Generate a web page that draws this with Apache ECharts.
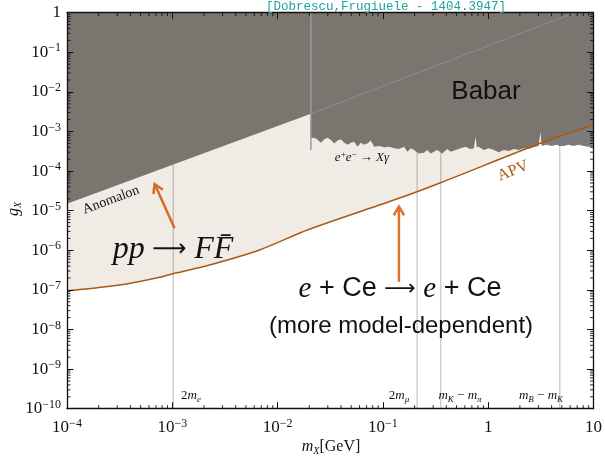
<!DOCTYPE html>
<html><head><meta charset="utf-8">
<script src="https://cdn.jsdelivr.net/npm/echarts@6/dist/echarts.min.js"></script>
<style>html,body{margin:0;padding:0;background:#fff}#c{width:605px;height:457px}</style>
</head><body><div id="c"></div>
<script>
// ---- data ----
const xTickExps = [-4, -3, -2, -1, 0, 1];           // m_X in GeV: 1e-4 ... 10
const yTickExps = [-10, -9, -8, -7, -6, -5, -4, -3, -2, -1, 0]; // g_X: 1e-10 ... 1

const apvMass = [1e-4, 1.77e-4, 3.67e-4, 7.6e-4, 1.05e-3, 2.26e-3, 6.73e-3, 0.02, 0.142, 0.353, 3.13, 10];
const apvG    = [9.5e-8, 1.10e-7, 1.41e-7, 2.08e-7, 2.62e-7, 4.26e-7, 1.02e-6, 3.39e-6, 2.06e-5, 5.09e-5, 5.04e-4, 1.46e-3];

const anomalonMass = [1e-4, 0.0207, 6.6];
const anomalonG    = [1.5e-5, 2.8e-3, 1.0];

const babarMass = [0.0207,0.0232,0.0240,0.0258,0.0277,0.0298,0.0321,0.0345,0.0371,0.0399,0.0430,0.0461,0.0497,0.0533,0.0574,0.0618,0.0664,0.0713,0.0767,0.0826,0.0920,0.103,0.115,0.128,0.142,0.148,0.159,0.171,0.184,0.197,0.220,0.245,0.264,0.284,0.305,0.328,0.366,0.408,0.440,0.490,0.547,0.610,0.679,0.731,0.759,0.780,0.815,0.908,1.01,1.13,1.26,1.41,1.57,1.75,1.95,2.17,2.42,2.70,3.01,3.13,3.22,3.59,4.00,4.46,4.76,5.20,5.79,6.47,7.21,8.04,8.97,10];
const babarG = [7.1e-4,6.7e-4,6.1e-4,5.2e-4,6.4e-4,7.0e-4,6.1e-4,5.0e-4,5.9e-4,6.4e-4,5.2e-4,4.6e-4,5.2e-4,5.5e-4,4.1e-4,5.2e-4,4.6e-4,5.0e-4,5.9e-4,4.1e-4,4.3e-4,4.0e-4,4.1e-4,3.8e-4,3.6e-4,3.4e-4,4.1e-4,3.1e-4,3.8e-4,3.4e-4,2.8e-4,2.9e-4,3.4e-4,2.8e-4,3.1e-4,3.4e-4,2.8e-4,3.6e-4,3.1e-4,3.4e-4,3.8e-4,4.1e-4,3.6e-4,3.8e-4,7.4e-4,4.0e-4,4.1e-4,3.4e-4,3.8e-4,3.4e-4,3.0e-4,3.4e-4,3.2e-4,3.6e-4,3.4e-4,3.8e-4,3.6e-4,4.0e-4,4.3e-4,9.7e-4,4.3e-4,4.6e-4,4.3e-4,4.6e-4,4.3e-4,4.3e-4,4.6e-4,4.3e-4,4.6e-4,4.3e-4,4.1e-4,4.1e-4];

const babarEdgeMass = [0.0207, 0.0207];
const babarEdgeG    = [1.0, 3.4e-4];

const thresholdMass = [1.022e-3, 0.2113, 0.3543, 4.785];  // 2m_e, 2m_mu, mK-mpi, mB-mK

// arrows: [mass, g] of tail and tip
const arrowFrom = [[1.05e-3, 3.6e-6], [0.142, 1.6e-7], [0.326, 9.2e-3]];
const arrowTo   = [[6.8e-4, 4.7e-5], [0.142, 1.26e-5], [0.0635, 1.05e-3]];

// ---- rendering ----
const SERIF = '"Liberation Serif","Times New Roman",serif';
const SANS = '"Liberation Sans",Arial,sans-serif';
const ORANGE = '#e0702a';
const BROWN = '#a85a14';
const lg = Math.log10;
const pts = (xs, ys) => xs.map((x, i) => [lg(x), lg(ys[i])]);

const minorTicks = [];
for (let n = -4; n < 1; n++) for (let k = 2; k <= 9; k++) minorTicks.push([n + lg(k), 0]);
for (let n = -10; n < 0; n++) for (let k = 2; k <= 9; k++) minorTicks.push([n + lg(k), 1]);

const supRich = {
  b: { fontFamily: SERIF, fontSize: 17, lineHeight: 20, color: '#111' },
  s: { fontFamily: SERIF, fontSize: 12, lineHeight: 12, verticalAlign: 'top', color: '#111' }
};
const expLabel = v => v === 0 ? '{b|1}' : v === 1 ? '{b|10}' : '{b|10}{s|\u2212' + (-v) + '}';

const axisCommon = {
  type: 'value', z: 10,
  axisLine: { show: true, onZero: false, lineStyle: { color: '#111', width: 1.3 } },
  axisTick: { show: true, inside: true, length: 6.5, lineStyle: { color: '#111', width: 1 } },
  splitLine: { show: false }
};

const chart = echarts.init(document.getElementById('c'));
chart.setOption({
  animation: false,
  backgroundColor: '#fff',
  grid: { left: 67, right: 10, top: 12.7, bottom: 48.3 },
  xAxis: [
    Object.assign({}, axisCommon, { position: 'bottom', min: xTickExps[0], max: xTickExps[xTickExps.length-1], interval: 1,
      axisLabel: { formatter: expLabel, rich: supRich, margin: 9 } }),
    Object.assign({}, axisCommon, { position: 'top', min: xTickExps[0], max: xTickExps[xTickExps.length-1], interval: 1,
      axisLabel: { show: false } })
  ],
  yAxis: [
    Object.assign({}, axisCommon, { position: 'left', min: yTickExps[0], max: yTickExps[yTickExps.length-1], interval: 1,
      axisLabel: { formatter: expLabel, rich: supRich, margin: 6 } }),
    Object.assign({}, axisCommon, { position: 'right', min: yTickExps[0], max: yTickExps[yTickExps.length-1], interval: 1,
      axisLabel: { show: false } })
  ],
  series: [
    { // threshold vertical lines
      type: 'custom', silent: true,
      data: thresholdMass.map(m => [lg(m), -10]),
      renderItem: (p, api) => {
        const a = api.coord([api.value(0), -10]), b = api.coord([api.value(0), 0]);
        return { type: 'line', shape: { x1: a[0], y1: a[1], x2: b[0], y2: b[1] }, style: { stroke: '#c9c9c9', lineWidth: 1.3 } };
      }
    },
    { // anomalon excluded region
      type: 'line', silent: true, showSymbol: false, data: pts(anomalonMass, anomalonG),
      lineStyle: { width: 0, opacity: 0 },
      areaStyle: { color: '#7c7c7c', opacity: 1, origin: 'end' }
    },
    { // babar excluded region
      type: 'line', silent: true, showSymbol: false, data: pts(babarMass, babarG),
      lineStyle: { width: 0, opacity: 0 },
      areaStyle: { color: '#7c7c7c', opacity: 1, origin: 'end' }
    },
    { // APV curve + region above it
      type: 'line', silent: true, showSymbol: false, smooth: 0.3, data: pts(apvMass, apvG),
      lineStyle: { color: BROWN, width: 1.5 },
      areaStyle: { color: 'rgba(115,55,5,0.1)', opacity: 1, origin: 'end' }
    },
    { // faint continuation of anomalon bound
      type: 'line', silent: true, showSymbol: false, data: pts(anomalonMass.slice(1), anomalonG.slice(1)),
      lineStyle: { color: 'rgba(160,160,160,0.55)', width: 1 }
    },
    { // babar left edge
      type: 'line', silent: true, showSymbol: false, data: pts(babarEdgeMass, babarEdgeG),
      lineStyle: { color: '#9a9a9a', width: 1.5 }
    },
    { // arrows
      type: 'custom', silent: true,
      data: arrowFrom.map((f, i) => [lg(f[0]), lg(f[1]), lg(arrowTo[i][0]), lg(arrowTo[i][1])]),
      encode: { x: [0, 2], y: [1, 3] },
      renderItem: (p, api) => {
        const p0 = api.coord([api.value(0), api.value(1)]);
        const p1 = api.coord([api.value(2), api.value(3)]);
        const ang = Math.atan2(p1[1] - p0[1], p1[0] - p0[0]);
        const L = 10, a = 0.55;
        const h1 = [p1[0] - L * Math.cos(ang - a), p1[1] - L * Math.sin(ang - a)];
        const h2 = [p1[0] - L * Math.cos(ang + a), p1[1] - L * Math.sin(ang + a)];
        return { type: 'group', children: [
          { type: 'line', shape: { x1: p0[0], y1: p0[1], x2: p1[0], y2: p1[1] }, style: { stroke: ORANGE, lineWidth: 2.5 } },
          { type: 'polyline', shape: { points: [h1, p1, h2] }, style: { stroke: ORANGE, lineWidth: 2.5, fill: null } }
        ] };
      }
    },
    { // minor ticks on all four sides
      type: 'custom', silent: true, z: 11,
      data: minorTicks,
      renderItem: (p, api) => {
        const v = api.value(0), isY = api.value(1) === 1, t = 3.5;
        let s;
        if (!isY) {
          const a = api.coord([v, -10]), b = api.coord([v, 0]);
          s = [[a[0], a[1], a[0], a[1] - t], [b[0], b[1], b[0], b[1] + t]];
        } else {
          const a = api.coord([-4, v]), b = api.coord([1, v]);
          s = [[a[0], a[1], a[0] + t, a[1]], [b[0], b[1], b[0] - t, b[1]]];
        }
        return { type: 'group', children: s.map(q => ({ type: 'line', shape: { x1: q[0], y1: q[1], x2: q[2], y2: q[3] }, style: { stroke: '#111', lineWidth: 0.9 } })) };
      }
    }
  ],
  graphic: [
    { type: 'text', z: 100, x: 386, y: 6.5, style: { text: '[Dobrescu,Frugiuele - 1404.3947]', fontFamily: '"Liberation Mono","DejaVu Sans Mono",monospace', fontSize: 12.5, fill: '#1aa596', align: 'center', verticalAlign: 'middle' } },
    { type: 'text', z: 100, x: 486, y: 92, style: { text: 'Babar', fontFamily: SANS, fontSize: 26, fill: '#111', align: 'center', verticalAlign: 'middle' } },
    { type: 'text', z: 100, x: 362, y: 158, style: { text: '{i|e}{s|+}{i|e}{s|\u2212}{r| \u2192 }{i|X\u03b3}', fill: '#111', align: 'center', verticalAlign: 'middle',
        rich: { i: { fontFamily: SERIF, fontStyle: 'italic', fontSize: 13, lineHeight: 16 }, s: { fontFamily: SERIF, fontSize: 9, lineHeight: 9, verticalAlign: 'top' }, r: { fontFamily: SERIF, fontSize: 13, lineHeight: 16 } } } },
    { type: 'text', z: 100, x: 111, y: 200, rotation: 0.359, style: { text: 'Anomalon', fontFamily: SERIF, fontSize: 14, fill: '#111', align: 'center', verticalAlign: 'middle' } },
    { type: 'text', z: 100, x: 513, y: 171, rotation: 0.38, style: { text: 'APV', fontFamily: SERIF, fontSize: 16, fill: BROWN, align: 'center', verticalAlign: 'middle' } },
    { type: 'text', z: 100, x: 173, y: 250, style: { text: '{i|pp} {r|\u27f6} {i|FF\u0304}', fill: '#111', align: 'center', verticalAlign: 'middle', fontFamily: SERIF, fontSize: 30,
        rich: { i: { fontFamily: SERIF, fontStyle: 'italic', fontSize: 32 }, r: { fontFamily: '"DejaVu Sans",sans-serif', fontSize: 24 } } } },
    { type: 'text', z: 100, x: 400, y: 289, style: { text: '{i|e} + Ce {r|\u27f6} {i|e} + Ce', fill: '#111', align: 'center', verticalAlign: 'middle', fontFamily: SANS, fontSize: 27,
        rich: { i: { fontFamily: SERIF, fontStyle: 'italic', fontSize: 29 }, r: { fontFamily: '"DejaVu Sans",sans-serif', fontSize: 22 } } } },
    { type: 'text', z: 100, x: 401, y: 326, style: { text: '(more model-dependent)', fontFamily: SANS, fontSize: 24, fill: '#111', align: 'center', verticalAlign: 'middle' } },
    { type: 'text', z: 100, x: 191, y: 396, style: { text: '2{i|m}{sub|e}', fill: '#111', align: 'center', verticalAlign: 'middle', fontFamily: SERIF, fontSize: 13,
        rich: { i: { fontFamily: SERIF, fontStyle: 'italic', fontSize: 13, lineHeight: 16 }, sub: { fontFamily: SERIF, fontStyle: 'italic', fontSize: 9, lineHeight: 10, verticalAlign: 'bottom' } } } },
    { type: 'text', z: 100, x: 399, y: 396, style: { text: '2{i|m}{sub|\u03bc}', fill: '#111', align: 'center', verticalAlign: 'middle', fontFamily: SERIF, fontSize: 13,
        rich: { i: { fontFamily: SERIF, fontStyle: 'italic', fontSize: 13, lineHeight: 16 }, sub: { fontFamily: SERIF, fontStyle: 'italic', fontSize: 9, lineHeight: 10, verticalAlign: 'bottom' } } } },
    { type: 'text', z: 100, x: 460, y: 396, style: { text: '{i|m}{sub|K} \u2212 {i|m}{sub|\u03c0}', fill: '#111', align: 'center', verticalAlign: 'middle', fontFamily: SERIF, fontSize: 13,
        rich: { i: { fontFamily: SERIF, fontStyle: 'italic', fontSize: 13, lineHeight: 16 }, sub: { fontFamily: SERIF, fontStyle: 'italic', fontSize: 9, lineHeight: 10, verticalAlign: 'bottom' } } } },
    { type: 'text', z: 100, x: 541, y: 396, style: { text: '{i|m}{sub|B} \u2212 {i|m}{sub|K}', fill: '#111', align: 'center', verticalAlign: 'middle', fontFamily: SERIF, fontSize: 13,
        rich: { i: { fontFamily: SERIF, fontStyle: 'italic', fontSize: 13, lineHeight: 16 }, sub: { fontFamily: SERIF, fontStyle: 'italic', fontSize: 9, lineHeight: 10, verticalAlign: 'bottom' } } } },
    { type: 'text', z: 100, x: 14, y: 209, rotation: Math.PI / 2, style: { text: '{i|g}{sub|X}', fill: '#111', align: 'center', verticalAlign: 'middle',
        rich: { i: { fontFamily: SERIF, fontStyle: 'italic', fontSize: 16, lineHeight: 18 }, sub: { fontFamily: SERIF, fontStyle: 'italic', fontSize: 10, lineHeight: 11, verticalAlign: 'bottom' } } } },
    { type: 'text', z: 100, x: 331, y: 447, style: { text: '{i|m}{sub|X}{r|[GeV]}', fill: '#111', align: 'center', verticalAlign: 'middle',
        rich: { i: { fontFamily: SERIF, fontStyle: 'italic', fontSize: 16, lineHeight: 18 }, sub: { fontFamily: SERIF, fontStyle: 'italic', fontSize: 10, lineHeight: 11, verticalAlign: 'bottom' }, r: { fontFamily: SERIF, fontSize: 16, lineHeight: 18 } } } }
  ]
});
</script>
</body></html>
